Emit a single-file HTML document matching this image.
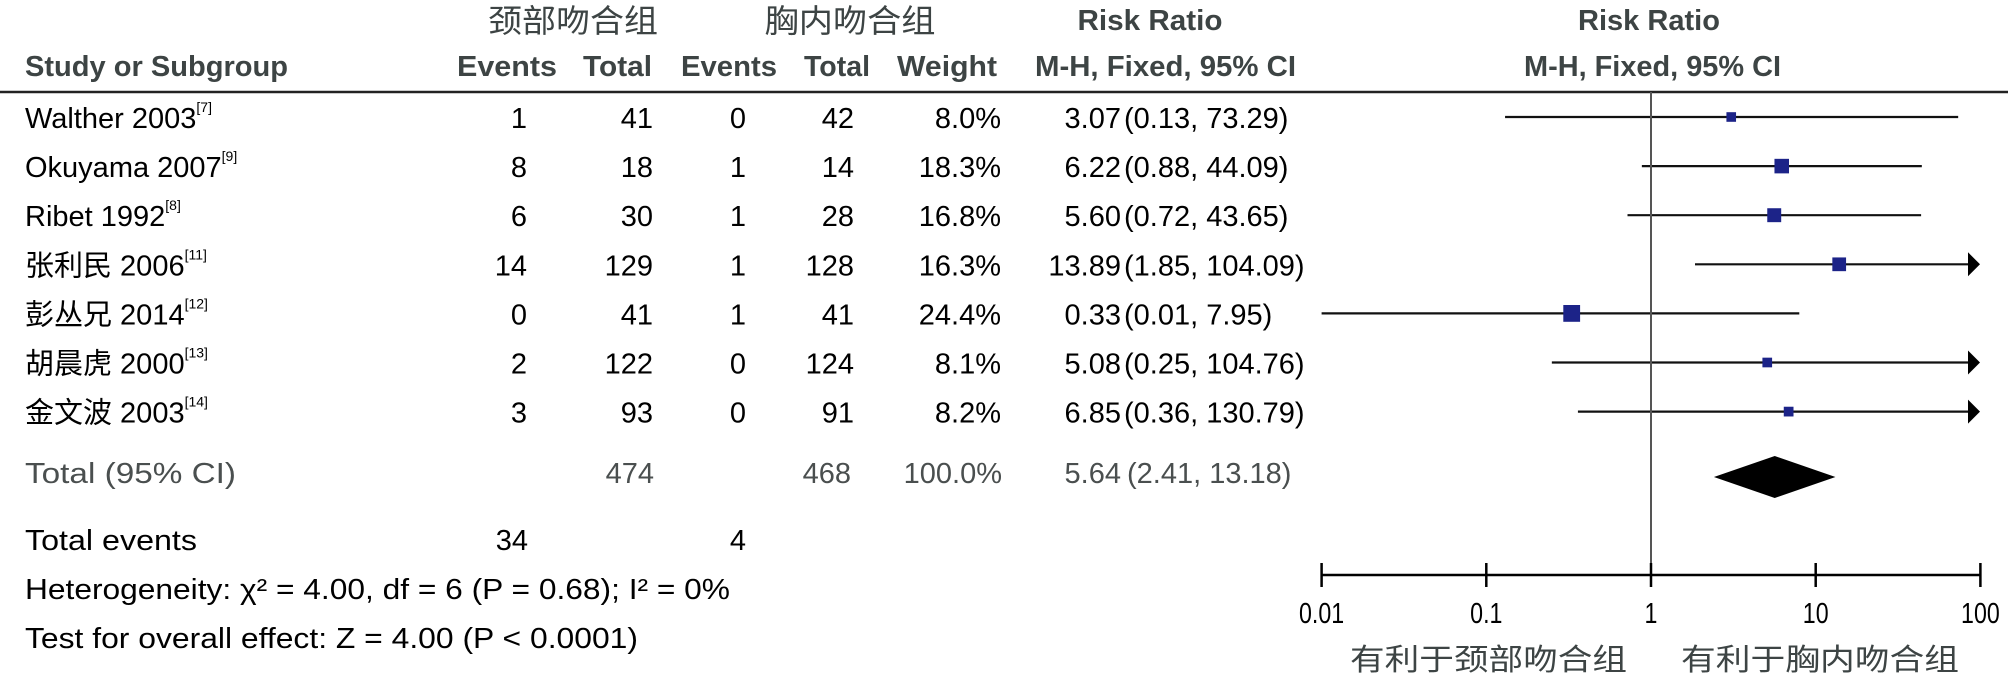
<!DOCTYPE html>
<html><head><meta charset="utf-8"><style>
html,body{margin:0;padding:0;background:#fff;}
svg{display:block;}
text{font-family:"Liberation Sans","Noto Sans CJK SC",sans-serif;}
.hd{font-weight:bold;fill:#3d4444;font-size:29px;}
.cj{fill:#3d4444;font-size:32px;font-family:"Liberation Sans","Noto Sans CJK SC",sans-serif;}
.tx{fill:#000;font-size:29px;}
.gy{fill:#4a4f4f;font-size:29px;}
.sup{fill:#000;font-size:14px;}
</style></head><body>
<svg id="chart" width="2008" height="676" viewBox="0 0 2008 676" xmlns="http://www.w3.org/2000/svg">
<g>
<text class="cj" x="573" y="32" text-anchor="middle" textLength="170" lengthAdjust="spacingAndGlyphs">颈部吻合组</text>
<text class="cj" x="850" y="32" text-anchor="middle" textLength="171" lengthAdjust="spacingAndGlyphs">胸内吻合组</text>
<text class="hd" x="1150" y="30" text-anchor="middle" textLength="145" lengthAdjust="spacingAndGlyphs">Risk Ratio</text>
<text class="hd" x="1649" y="30" text-anchor="middle" textLength="142" lengthAdjust="spacingAndGlyphs">Risk Ratio</text>
<text class="hd" x="25" y="76" textLength="263" lengthAdjust="spacingAndGlyphs">Study or Subgroup</text>
<text class="hd" x="457" y="76" textLength="100" lengthAdjust="spacingAndGlyphs">Events</text>
<text class="hd" x="583" y="76" textLength="69" lengthAdjust="spacingAndGlyphs">Total</text>
<text class="hd" x="681" y="76" textLength="96" lengthAdjust="spacingAndGlyphs">Events</text>
<text class="hd" x="804" y="76" textLength="66" lengthAdjust="spacingAndGlyphs">Total</text>
<text class="hd" x="897" y="76" textLength="100" lengthAdjust="spacingAndGlyphs">Weight</text>
<text class="hd" x="1035" y="76" textLength="261" lengthAdjust="spacingAndGlyphs">M-H, Fixed, 95% CI</text>
<text class="hd" x="1524" y="76" textLength="257" lengthAdjust="spacingAndGlyphs">M-H, Fixed, 95% CI</text>
</g>
<line x1="0" y1="92" x2="2008" y2="92" stroke="#222" stroke-width="2.5"/>
<g id="rows"></g>
<g id="plot"></g>
<g>
<text class="gy" x="25" y="483" textLength="211" lengthAdjust="spacingAndGlyphs">Total (95% CI)</text>
<text class="gy" x="654" y="483" text-anchor="end">474</text>
<text class="gy" x="851" y="483" text-anchor="end">468</text>
<text class="gy" x="1002" y="483" text-anchor="end">100.0%</text>
<text class="gy" x="1121" y="483" text-anchor="end">5.64</text>
<text class="gy" x="1127" y="483">(2.41, 13.18)</text>
<text class="tx" x="25" y="550" textLength="172" lengthAdjust="spacingAndGlyphs">Total events</text>
<text class="tx" x="528" y="550" text-anchor="end">34</text>
<text class="tx" x="746" y="550" text-anchor="end">4</text>
<text class="tx" x="25" y="599" textLength="705" lengthAdjust="spacingAndGlyphs">Heterogeneity:  χ² = 4.00, df = 6 (P = 0.68); I² = 0%</text>
<text class="tx" x="25" y="648" textLength="613" lengthAdjust="spacingAndGlyphs">Test for overall effect: Z = 4.00 (P &lt; 0.0001)</text>
</g>
</svg>
<script>
const studies = ["Walther 2003","Okuyama 2007","Ribet 1992","张利民 2006","彭丛兄 2014","胡晨虎 2000","金文波 2003"];
const refs = ["[7]","[9]","[8]","[11]","[12]","[13]","[14]"];
const events1 = [1,8,6,14,0,2,3];
const total1 = [41,18,30,129,41,122,93];
const events2 = [0,1,1,1,1,0,0];
const total2 = [42,14,28,128,41,124,91];
const weights = [8.0,18.3,16.8,16.3,24.4,8.1,8.2];
const rr = [3.07,6.22,5.60,13.89,0.33,5.08,6.85];
const lower = [0.13,0.88,0.72,1.85,0.01,0.25,0.36];
const upper = [73.29,44.09,43.65,104.09,7.95,104.76,130.79];
const pooled = [5.64,2.41,13.18];
const ticks = [0.01,0.1,1,10,100];
const tickLabels = ["0.01","0.1","1","10","100"];

const NS="http://www.w3.org/2000/svg";
const X0=1651, DEC=164.7, XMIN=1321, XMAX=1980, AXY=575;
function xs(v){return X0+DEC*Math.log10(v);}
function rowY(i){return 128+49.1*i;}
function mk(tag,attrs,parent,txt){const e=document.createElementNS(NS,tag);for(const k in attrs)e.setAttribute(k,attrs[k]);if(txt!==undefined)e.textContent=txt;parent.appendChild(e);return e;}
const rows=document.getElementById('rows'), plot=document.getElementById('plot');

studies.forEach((s,i)=>{
  const y=rowY(i);
  const g=mk('g',{},rows);
  
  
  const t=mk('text',{class:'tx',x:25,y:y},g);
  
  
  t.textContent=s;
  const sp=mk('tspan',{class:'sup',dy:-16},t,refs[i]);
  const cols=[[events1[i],527],[total1[i],653],[events2[i],746],[total2[i],854],[weights[i].toFixed(1)+'%',1001]];
  cols.forEach(c=>{
    const e=mk('text',{class:'tx',x:c[1],y:y,'text-anchor':'end'},g,String(c[0]));
    
    
  });
  const r=mk('text',{class:'tx',x:1121,y:y,'text-anchor':'end'},g,rr[i].toFixed(2));
  
  
  const ci=mk('text',{class:'tx',x:1124,y:y},g,'('+lower[i].toFixed(2)+', '+upper[i].toFixed(2)+')');
  
  

  const ly=y-11;
  const xl=Math.max(XMIN,xs(lower[i])), xu=Math.min(XMAX,xs(upper[i]));
  const clipped=xs(upper[i])>XMAX;
  const ln=mk('line',{x1:xl,y1:ly,x2:clipped?XMAX-10:xu,y2:ly,stroke:'#111','stroke-width':2.2},plot);
  
  
  if(clipped){
    const a=mk('polygon',{points:(XMAX-12)+','+(ly-12)+' '+XMAX+','+ly+' '+(XMAX-12)+','+(ly+12),fill:'#000'},plot);
    
    
  }
  const sz=3.4*Math.sqrt(weights[i]);
  const sq=mk('rect',{x:xs(rr[i])-sz/2,y:ly-sz/2,width:sz,height:sz,fill:'#1c2388'},plot);
  
  
});

const vl=mk('line',{x1:X0,y1:92,x2:X0,y2:AXY,stroke:'#555','stroke-width':2},plot);



const dy=477;
const dm=mk('polygon',{points:xs(pooled[1])+','+dy+' '+xs(pooled[0])+','+(dy-21)+' '+xs(pooled[2])+','+dy+' '+xs(pooled[0])+','+(dy+21),fill:'#000'},plot);



const ax=mk('line',{x1:XMIN,y1:AXY,x2:XMAX,y2:AXY,stroke:'#000','stroke-width':2.5},plot);


ticks.forEach((v,i)=>{
  const tk=mk('line',{x1:xs(v),y1:AXY-12,x2:xs(v),y2:AXY+12,stroke:'#000','stroke-width':2.5},plot);
  
  
  const lb=mk('text',{class:'tx',x:xs(v),y:623,'text-anchor':'middle',style:'font-size:29px',transform:'translate('+xs(v)+',0) scale(0.8,1) translate('+(-xs(v))+',0)'},plot,tickLabels[i]);
  
  
});
const l1=mk('text',{class:'cj',x:1350,y:670,textLength:277,lengthAdjust:'spacingAndGlyphs',style:'font-size:30px'},plot,'有利于颈部吻合组');


const l2=mk('text',{class:'cj',x:1681,y:670,textLength:278,lengthAdjust:'spacingAndGlyphs',style:'font-size:30px'},plot,'有利于胸内吻合组');


</script>
</body></html>
